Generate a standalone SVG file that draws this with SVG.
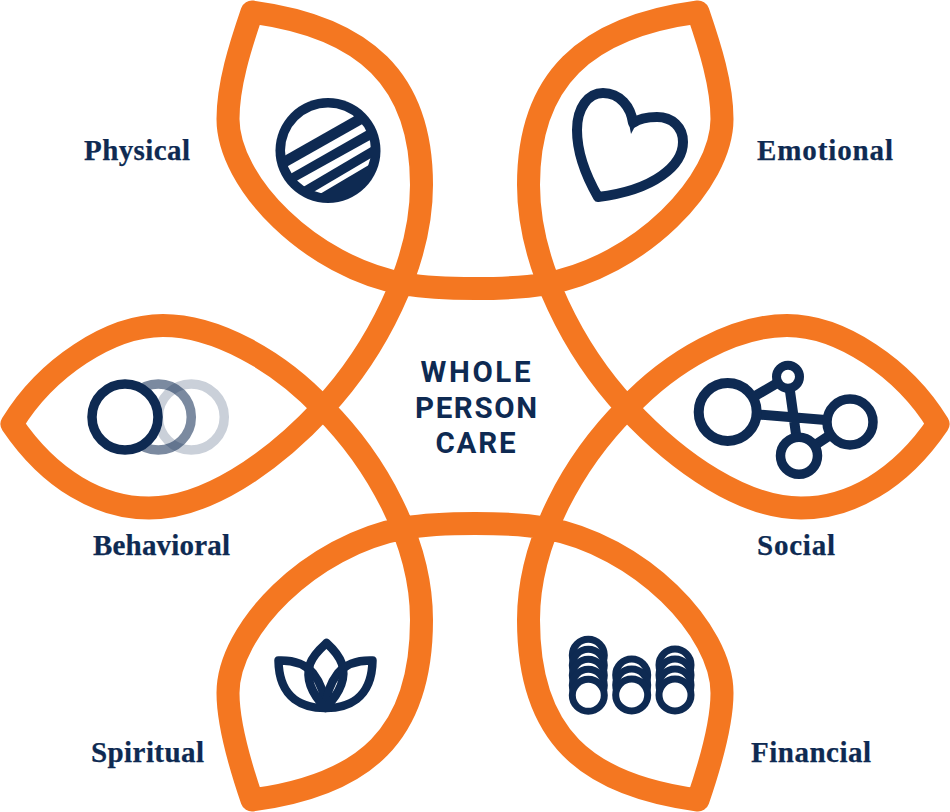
<svg xmlns="http://www.w3.org/2000/svg" width="950" height="812" viewBox="0 0 950 812">
<style>
.i{fill:none;stroke:#0e2a52;stroke-linejoin:round;stroke-linecap:round}
.w{fill:#fff}
.n{fill:#0e2a52}
.l{font-family:"Liberation Serif",serif;font-weight:700;font-size:29px;fill:#0e2a52;stroke:#0e2a52;stroke-width:.25}
.c{font-family:Roboto,"Liberation Sans",sans-serif;font-weight:700;font-size:29.5px;fill:#0e2a52}
</style>
<defs>
<clipPath id="inner"><circle cx="328" cy="150.5" r="43"/></clipPath>
</defs>
<rect width="950" height="812" fill="#fff"/>
<g id="connectors">
<path fill="none" stroke="#f47721" stroke-width="23" stroke-linejoin="round" d="M12 424C46 368 110 325.5 163 325.5C215 325.5 278 360 323 408C375 460 421.5 540 421.5 620C421.5 735 365 785 252 800C240 765 228 725 228 693C228 630 310 545 405 528C428 524 452 523.5 475 523.5C498 523.5 522 524 545 528C640 545 722 630 722 693C722 725 710 765 698 800C585 785 528.5 735 528.5 620C528.5 540 575 460 627 408C672 360 735 325.5 787 325.5C840 325.5 904 368 938 424C900 480 850 508 801 508C745 508 680 465 627 408C575 352 528.5 265 528.5 185C528.5 80 585 27 698 12C710 47 722 85 722 119C722 182 640 267 545 284C522 288 498 288.5 475 288.5C452 288.5 428 288 405 284C310 267 228 182 228 119C228 85 240 47 252 12C365 27 421.5 80 421.5 185C421.5 265 375 352 323 408C270 465 205 508 149 508C100 508 50 480 12 424Z"/>
</g>
<g id="center">
<text class="c" x="420.5" y="382" textLength="110">WHOLE</text>
<text class="c" x="415" y="417.7" textLength="122">PERSON</text>
<text class="c" x="435.5" y="453.3" textLength="80">CARE</text>
</g>
<g id="physical">
<circle class="n" cx="328" cy="150.5" r="52.5"/>
<g class="w" clip-path="url(#inner)">
<polygon points="270,164 353.3,116.7 380,90 270,90"/>
<polygon points="280,170.5 366,122 372,127.5 284,177.5"/>
<polygon points="290,184.5 372,139 376,144 298,190"/>
<polygon points="310,194 376,155 374,162 320.7,193.5"/>
</g>
<text class="l" x="84" y="160" textLength="106">Physical</text>
</g>
<g id="emotional">
<path class="i" stroke-width="10" d="M598 197C586 176 577 152 577 130C577 108 588 93 603 93C620 93 631 107 633 123C640 118 648 117 657 117C672 117 683 127 683 142C683 165 655 190 598 197Z"/>
<polygon class="n" points="628,118 640,117 631,134"/>
<text class="l" x="757" y="160" textLength="136">Emotional</text>
</g>
<g id="behavioral">
<circle cx="191.3" cy="417" r="33" fill="none" stroke="#0e2a52" stroke-opacity=".22" stroke-width="9.5"/>
<circle cx="158.3" cy="417" r="33" fill="none" stroke="#0e2a52" stroke-opacity=".55" stroke-width="9.5"/>
<circle cx="125" cy="417" r="33" fill="#fff" stroke="#0e2a52" stroke-width="9.5"/>
<text class="l" x="93" y="555" textLength="137">Behavioral</text>
</g>
<g id="social">
<g class="i" stroke-width="10">
<path d="M727.7 412L788 376.7L799 455.7L850 422L727.7 412"/>
</g>
<g class="w" stroke="#0e2a52">
<circle cx="727.7" cy="412" r="29" stroke-width="10"/>
<circle cx="788" cy="376.7" r="11.5" stroke-width="9"/>
<circle cx="850" cy="422" r="23" stroke-width="9.5"/>
<circle cx="799" cy="455.7" r="18.5" stroke-width="9.5"/>
</g>
<text class="l" x="757" y="555" textLength="78">Social</text>
</g>
<g id="spiritual">
<g class="i" stroke-width="8.5">
<path d="M278.5 660.5C292 660 305 664 313 673C320 682 325 695 325 708C305 708 279 700 278.5 660.5Z"/>
<path d="M372.5 660.5C359 660 346 664 338 673C331 682 326 695 326 708C346 708 372 700 372.5 660.5Z"/>
<path d="M326.5 643C321 648 313 655 310 664C305 680 313 695 325.5 708C338 695 347 680 342 664C339 655 332 648 326.5 643Z"/>
</g>
<text class="l" x="91" y="762" textLength="113">Spiritual</text>
</g>
<g id="financial">
<g class="w" stroke="#0e2a52" stroke-width="7">
<circle cx="588.3" cy="655.3" r="16"/><circle cx="588.3" cy="665.3" r="16"/><circle cx="588.3" cy="675.3" r="16"/><circle cx="588.3" cy="685.3" r="16"/><circle cx="588.3" cy="695.3" r="16"/>
<circle cx="631.7" cy="675" r="16"/><circle cx="631.7" cy="685" r="16"/><circle cx="631.7" cy="695" r="16"/>
<circle cx="675" cy="665" r="16"/><circle cx="675" cy="675" r="16"/><circle cx="675" cy="685" r="16"/><circle cx="675" cy="695" r="16"/>
</g>
<text class="l" x="751" y="762" textLength="120">Financial</text>
</g>
</svg>
